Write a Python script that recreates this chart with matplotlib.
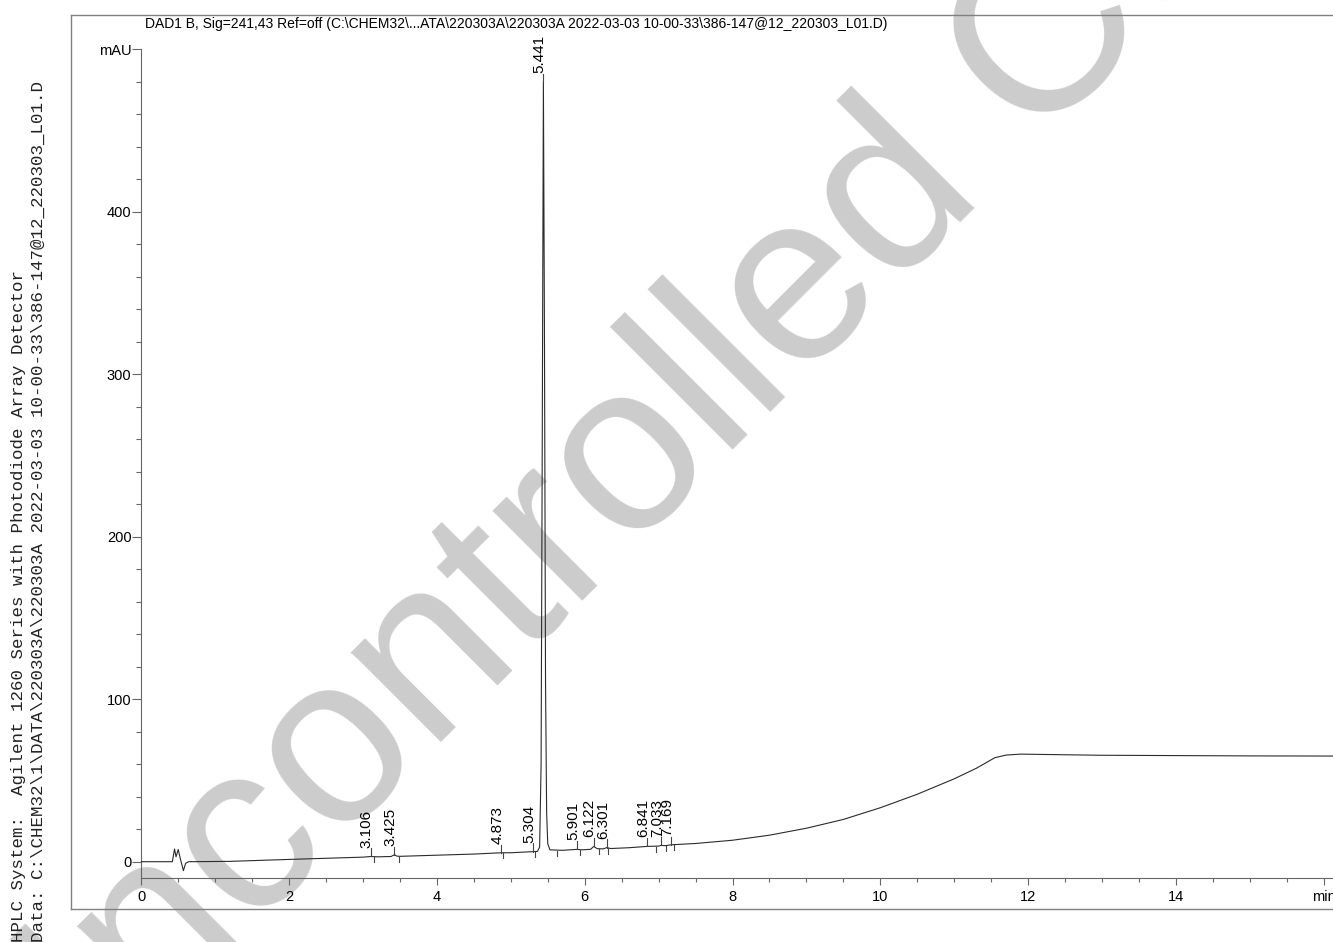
import numpy as np
import matplotlib
matplotlib.use("Agg")
import matplotlib.pyplot as plt
from matplotlib.lines import Line2D
from matplotlib.ticker import FixedLocator, MultipleLocator

# ---- chromatogram trace (retention time in min, absorbance in mAU) ----
time_min = [0.00, 0.42, 0.45, 0.47, 0.50, 0.53, 0.57, 0.60, 0.64, 1.20,
            2.00, 2.50, 3.00, 3.106, 3.20, 3.38, 3.425, 3.46, 3.50, 4.00,
            4.50, 4.873, 5.00, 5.304, 5.36, 5.39, 5.41, 5.425, 5.441, 5.455,
            5.47, 5.485, 5.50, 5.53, 5.70, 5.901, 5.95, 6.08, 6.122, 6.17,
            6.25, 6.301, 6.35, 6.60, 6.841, 7.00, 7.033, 7.10, 7.169, 7.50,
            8.00, 8.50, 9.00, 9.50, 10.00, 10.50, 11.00, 11.30, 11.55, 11.70,
            11.90, 12.50, 13.00, 14.00, 15.00, 16.30]
signal_mau = [0.0, 0.0, 7.8, 3.0, 7.5, 1.5, -5.5, -1.0, 0.0, 0.2,
              1.4, 2.1, 2.8, 3.2, 3.0, 3.2, 4.3, 3.4, 3.3, 4.0,
              4.7, 5.5, 5.5, 6.2, 6.3, 9.0, 60.0, 250.0, 480.0, 330.0,
              110.0, 30.0, 11.0, 7.3, 7.0, 7.6, 7.3, 7.6, 9.4, 8.0,
              7.9, 8.7, 8.1, 8.6, 9.4, 9.6, 10.0, 9.9, 10.4, 11.2,
              13.2, 16.3, 20.6, 26.0, 33.2, 41.5, 51.0, 57.5, 64.0, 65.6,
              66.2, 65.8, 65.5, 65.3, 65.1, 65.0]

# labelled peaks and integration event marks
peak_rt = [3.106, 3.425, 4.873, 5.304, 5.441, 5.901, 6.122, 6.301,
           6.841, 7.033, 7.169]
event_rt = [3.15, 3.49, 4.89, 5.33, 5.62, 5.94, 6.20, 6.32, 6.97, 7.10, 7.21]

x_ticks = [0, 2, 4, 6, 8, 10, 12, 14, 16]
x_tick_labels = ["0", "2", "4", "6", "8", "10", "12", "14", "min"]
y_ticks = [0, 100, 200, 300, 400, 500]
y_tick_labels = ["0", "100", "200", "300", "400", "mAU"]

title = ("DAD1 B, Sig=241,43 Ref=off (C:\\CHEM32\\...ATA\\220303A\\220303A "
         "2022-03-03 10-00-33\\386-147@12_220303_L01.D)")
side_line1 = "HPLC System:  Agilent 1260 Series with Photodiode Array Detector"
side_line2 = ("Data: C:\\CHEM32\\1\\DATA\\220303A\\220303A 2022-03-03 "
              "10-00-33\\386-147@12_220303_L01.D")
stamp = "Uncontrolled Copy"

plt.rcParams["font.family"] = ["Liberation Sans", "DejaVu Sans"]

W, H = 1333, 942
fig = plt.figure(figsize=(W / 100, H / 100), dpi=100)


def fx(px):
    return px / W


def fy(py):
    return 1 - py / H


# diagonal stamp behind everything
fig.text(0.0254, -0.2204, stamp, rotation=45, rotation_mode="anchor",
         ha="left", va="baseline", fontsize=172.8, color="#cccccc",
         zorder=-5)

x0, x1 = 141.3, 141.3 + 16.3 * 73.9
ax = fig.add_axes([fx(x0), fy(877.7), fx(x1) - fx(x0), fy(49.2) - fy(877.7)])
ax.patch.set_alpha(0)
ax.set_xlim(0, 16.3)
ax.set_ylim(-9.85, 500)

ax.plot(time_min, signal_mau, color="#2b2b2b", lw=0.8, zorder=3)

for s in ("top", "right"):
    ax.spines[s].set_visible(False)
for s in ("left", "bottom"):
    ax.spines[s].set_color("#666666")
    ax.spines[s].set_linewidth(0.8)

ax.xaxis.set_major_locator(FixedLocator(x_ticks))
ax.set_xticklabels(x_tick_labels)
ax.xaxis.set_minor_locator(MultipleLocator(0.5))
ax.yaxis.set_major_locator(FixedLocator(y_ticks))
ax.set_yticklabels(y_tick_labels)
ax.yaxis.set_minor_locator(MultipleLocator(20))

ax.tick_params(axis="x", which="major", direction="out", length=5, width=0.8,
               color="#666666", labelsize=10.5, pad=4)
ax.tick_params(axis="x", which="minor", direction="out", length=3, width=0.8,
               color="#666666")
ax.tick_params(axis="y", which="major", direction="out", length=6.5, width=0.8,
               color="#666666", labelsize=10.5, pad=0.5)
ax.tick_params(axis="y", which="minor", direction="out", length=3.6, width=0.8,
               color="#666666")

# integration start/stop marks hanging below the trace
for t in event_rt:
    yb = np.interp(t, time_min, signal_mau)
    ax.plot([t, t], [yb - 0.3, yb - 3.5], color="#444444", lw=0.8, zorder=3)

# retention-time labels above each peak apex
for rt in peak_rt:
    ya = np.interp(rt, time_min, signal_mau)
    ax.plot([rt, rt], [ya, ya + 5.0], color="#444444", lw=0.8, zorder=3)
    ax.text(rt, ya + 5.5, f"{rt:.3f}", rotation=90, rotation_mode="anchor",
            ha="left", va="baseline", fontsize=11, color="black")

# page frame
frame = dict(transform=fig.transFigure, color="#808080", lw=1.0)
fig.add_artist(Line2D([fx(71), 1.0], [fy(15), fy(15)], **frame))
fig.add_artist(Line2D([fx(71), fx(71)], [fy(15), fy(909)], **frame))
fig.add_artist(Line2D([fx(71), 1.0], [fy(909), fy(909)], **frame))

fig.text(fx(145), fy(28), title, fontsize=10, ha="left", va="baseline")

mono = ["Liberation Mono", "DejaVu Sans Mono"]
fig.text(fx(23), fy(942), side_line1, rotation=90, rotation_mode="anchor",
         ha="left", va="baseline", family=mono, fontsize=12.6, color="#222222")
fig.text(fx(43), fy(942), side_line2, rotation=90, rotation_mode="anchor",
         ha="left", va="baseline", family=mono, fontsize=12.6, color="#222222")

fig.savefig("out.png", dpi=100)
